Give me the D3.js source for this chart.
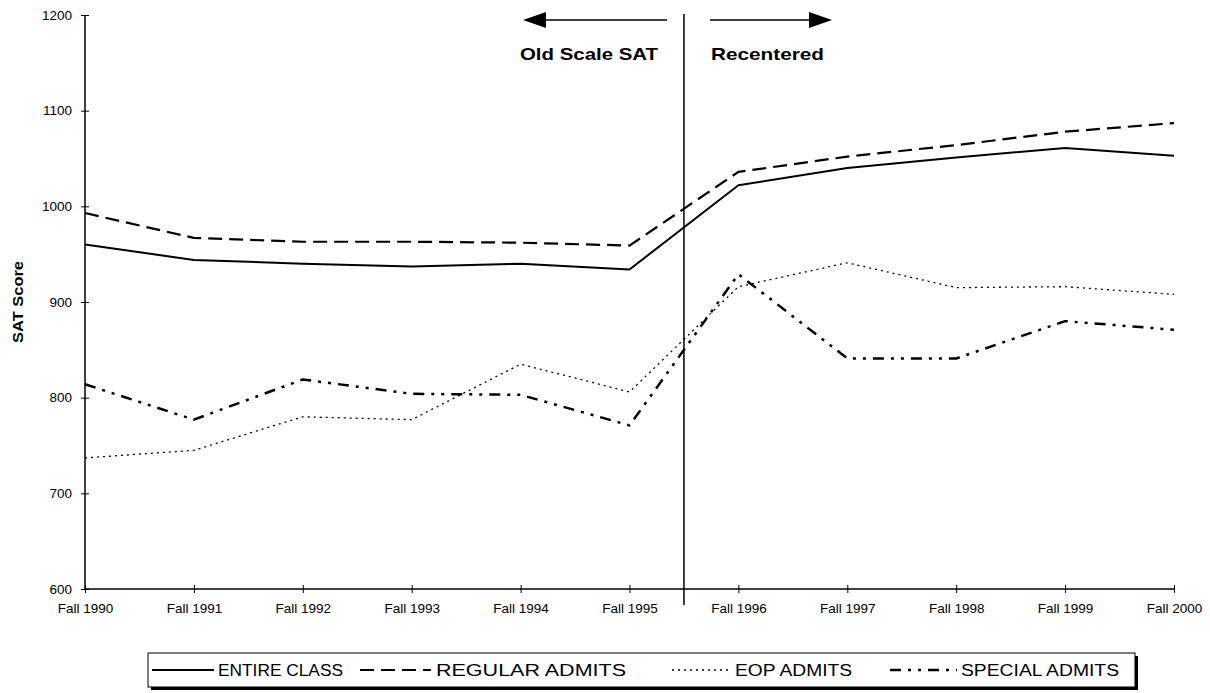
<!DOCTYPE html>
<html><head><meta charset="utf-8">
<script src="https://cdn.jsdelivr.net/npm/d3@7"></script>
<style>
html,body{margin:0;padding:0;background:#fff;}
svg{display:block;font-family:Arial,"Liberation Sans",sans-serif;}
</style></head>
<body>
<svg id="chart" width="1210" height="693"></svg>
<script>
const categories = ["Fall 1990","Fall 1991","Fall 1992","Fall 1993","Fall 1994","Fall 1995","Fall 1996","Fall 1997","Fall 1998","Fall 1999","Fall 2000"];
const entireClass = [960, 944, 940, 937, 940, 934, 1022, 1040, 1051, 1061, 1053];
const regularAdmits = [993, 967, 963, 963, 962, 959, 1036, 1052, 1064, 1078, 1087];
const eopAdmits = [737, 745, 780, 777, 835, 806, 916, 941, 915, 916, 908];
const specialAdmits = [814, 777, 819, 804, 803, 771, 929, 841, 841, 880, 871];
const yTicks = [600, 700, 800, 900, 1000, 1100, 1200];
const seriesNames = ["ENTIRE CLASS","REGULAR ADMITS","EOP ADMITS","SPECIAL ADMITS"];

const svg = d3.select("#chart");
const x = d3.scaleLinear().domain([0, categories.length - 1]).range([85, 1174]);
const y = d3.scaleLinear().domain([600, 1200]).range([589, 15]);

const styles = [
  {w: 2, dash: null},
  {w: 2.2, dash: "14,7"},
  {w: 1.3, dash: "2,4"},
  {w: 2.5, dash: "11,7,3,7,3,7"}
];
const seriesData = [entireClass, regularAdmits, eopAdmits, specialAdmits];
const FONT = "Arial, 'Liberation Sans', sans-serif";

// axes
const yAxis = d3.axisLeft(y).tickValues(yTicks).tickFormat(d3.format("d")).tickSize(4).tickPadding(9);
const gy = svg.append("g").attr("transform", `translate(${x(0)},0)`).call(yAxis);
gy.select(".domain").attr("stroke", "#000").attr("stroke-width", 1.5).attr("d", `M0,${y(1200)}V${y(600)}`);
gy.selectAll(".tick line").attr("x1", -4).attr("x2", 4).attr("stroke", "#000");
gy.selectAll(".tick text").style("font-size", "13.5px").style("font-family", FONT).attr("fill", "#000");

const xAxis = d3.axisBottom(x).tickValues(d3.range(categories.length)).tickFormat(i => categories[i]).tickSize(4).tickPadding(10);
const gx = svg.append("g").attr("transform", `translate(0,${y(600)})`).call(xAxis);
gx.select(".domain").attr("stroke", "#000").attr("stroke-width", 1.3).attr("d", `M${x(0)},0H${x(categories.length-1)}`);
gx.selectAll(".tick line").attr("y1", -4).attr("y2", 4).attr("stroke", "#000");
gx.selectAll(".tick text").style("font-size", "13.5px").style("font-family", FONT).attr("fill", "#000");

// y axis title
svg.append("text").attr("transform", `translate(23,${y(900)}) rotate(-90)`)
  .attr("text-anchor", "middle").style("font-size", "15px").style("font-weight", "bold")
  .attr("textLength", 82).attr("lengthAdjust", "spacingAndGlyphs").text("SAT Score");

// divider line between old scale and recentered
const xDiv = x(5.5);
svg.append("line").attr("x1", xDiv).attr("x2", xDiv).attr("y1", 14).attr("y2", 605)
  .attr("stroke", "#000").attr("stroke-width", 1.5);

// arrows
const arrowY = 20;
svg.append("line").attr("x1", 540).attr("x2", 667).attr("y1", arrowY).attr("y2", arrowY).attr("stroke", "#000").attr("stroke-width", 1.5);
svg.append("path").attr("d", `M523,${arrowY}L546,${arrowY-8}L546,${arrowY+8}Z`).attr("fill", "#000");
svg.append("line").attr("x1", 710).attr("x2", 815).attr("y1", arrowY).attr("y2", arrowY).attr("stroke", "#000").attr("stroke-width", 1.5);
svg.append("path").attr("d", `M832,${arrowY}L809,${arrowY-8}L809,${arrowY+8}Z`).attr("fill", "#000");

svg.append("text").attr("x", 520).attr("y", 60).style("font-size", "17px").style("font-weight", "bold")
  .attr("textLength", 138).attr("lengthAdjust", "spacingAndGlyphs").text("Old Scale SAT");
svg.append("text").attr("x", 711).attr("y", 60).style("font-size", "17px").style("font-weight", "bold")
  .attr("textLength", 113).attr("lengthAdjust", "spacingAndGlyphs").text("Recentered");

// series lines
const line = d3.line().x((d, i) => x(i)).y(d => y(d));
seriesData.forEach((data, k) => {
  svg.append("path").datum(data).attr("d", line)
    .attr("fill", "none").attr("stroke", "#000")
    .attr("stroke-width", styles[k].w)
    .attr("stroke-dasharray", styles[k].dash)
    .attr("stroke-linejoin", "round");
});

// legend
const lg = svg.append("g");
const lx0 = 148, lx1 = 1135, ly0 = 653, ly1 = 687;
lg.append("rect").attr("x", lx0 + 3).attr("y", ly0 + 3).attr("width", lx1 - lx0).attr("height", ly1 - ly0).attr("fill", "#000");
lg.append("rect").attr("x", lx0).attr("y", ly0).attr("width", lx1 - lx0).attr("height", ly1 - ly0)
  .attr("fill", "#fff").attr("stroke", "#000").attr("stroke-width", 1);
const legendItems = [
  {l0: 152, l1: 214, t: 218, tw: 125},
  {l0: 360, l1: 431, t: 436, tw: 190},
  {l0: 672, l1: 730, t: 735, tw: 117},
  {l0: 890, l1: 957, t: 961, tw: 158}
];
const ly = (ly0 + ly1) / 2;
legendItems.forEach((it, k) => {
  lg.append("line").attr("x1", it.l0).attr("x2", it.l1).attr("y1", ly).attr("y2", ly)
    .attr("stroke", "#000").attr("stroke-width", styles[k].w).attr("stroke-dasharray", styles[k].dash);
  lg.append("text").attr("x", it.t).attr("y", ly + 6).style("font-size", "16px")
    .attr("textLength", it.tw).attr("lengthAdjust", "spacingAndGlyphs").text(seriesNames[k]);
});
</script>
</body></html>
